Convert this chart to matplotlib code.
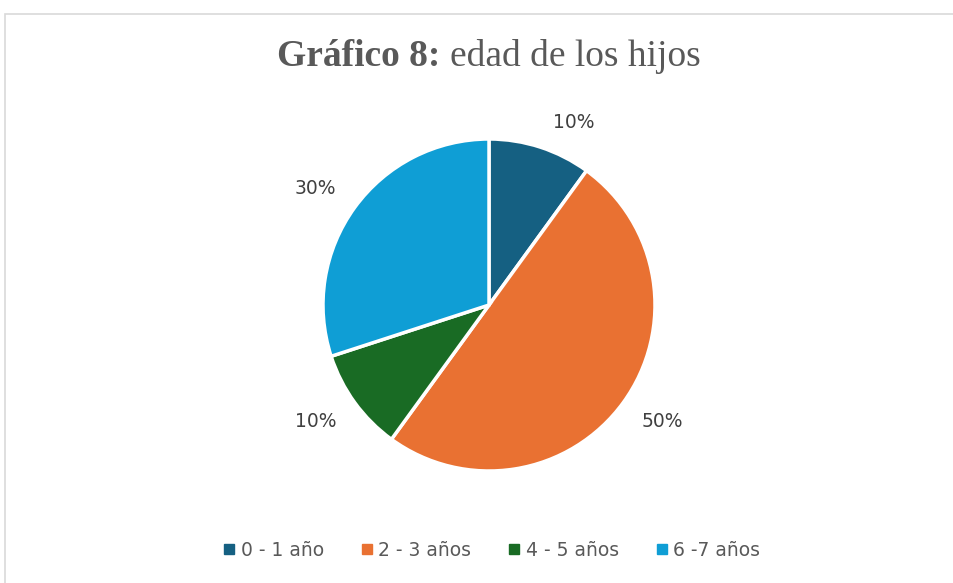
import matplotlib.pyplot as plt
from matplotlib.patches import Rectangle
from matplotlib.lines import Line2D

# datos
categorias = ['0 - 1 año', '2 - 3 años', '4 - 5 años', '6 -7 años']
porcentajes = [10, 50, 10, 30]
colores = ['#156082', '#E97132', '#196B24', '#0F9ED5']

W, H = 954, 583
fig = plt.figure(figsize=(W / 100, H / 100), dpi=100)

# marco del gráfico
fig.patches.append(Rectangle((5 / W, -0.01), 1.0, 1 - 14 / H + 0.01,
                             transform=fig.transFigure, fill=False,
                             edgecolor='#d9d9d9', linewidth=1.2))

# título: parte en negrita + parte normal, centrado en conjunto
ty = 1 - 57 / H
t1 = fig.text(0, ty, 'Gráfico 8: ', ha='left', va='center', fontsize=27,
              fontweight='bold', family='Liberation Serif', color='#595959')
t2 = fig.text(0, ty, 'edad de los hijos', ha='left', va='center', fontsize=27,
              family='Liberation Serif', color='#595959')
rend = fig.canvas.get_renderer()
w1 = t1.get_window_extent(rend).width
w2 = t2.get_window_extent(rend).width
x0 = 489 - (w1 + w2) / 2
t1.set_x(x0 / W)
t2.set_x((x0 + w1) / W)

cx, cy, r = 489, 305, 166
ax = fig.add_axes([(cx - r) / W, (H - cy - r) / H, 2 * r / W, 2 * r / H])
wedges, texts, autotexts = ax.pie(
    porcentajes, colors=colores, startangle=90, counterclock=False,
    autopct='%1.0f%%', pctdistance=1.2,
    wedgeprops=dict(edgecolor='white', linewidth=2.5),
    textprops=dict(fontsize=13.5, color='#404040', family='DejaVu Sans'))

# posiciones de etiquetas tipo "ajuste perfecto" de Excel
pos_etiquetas = [(0.512, 1.102), (1.042, -0.699), (-1.042, -0.699), (-1.048, 0.699)]
for t, p in zip(autotexts, pos_etiquetas):
    t.set_position(p)

ax.set_xlim(-1, 1)
ax.set_ylim(-1, 1)
ax.set_aspect('equal')
ax.axis('off')

handles = [Line2D([], [], marker='s', linestyle='', markersize=7,
                  markerfacecolor=c, markeredgecolor=c) for c in colores]
fig.legend(handles, categorias, loc='center', bbox_to_anchor=(492 / W, 1 - 550 / H),
           ncol=4, frameon=False, handlelength=0.6, handletextpad=0.3,
           columnspacing=2.0, prop=dict(size=13.5, family='DejaVu Sans'),
           labelcolor='#595959')

fig.savefig('out.png', dpi=100)
